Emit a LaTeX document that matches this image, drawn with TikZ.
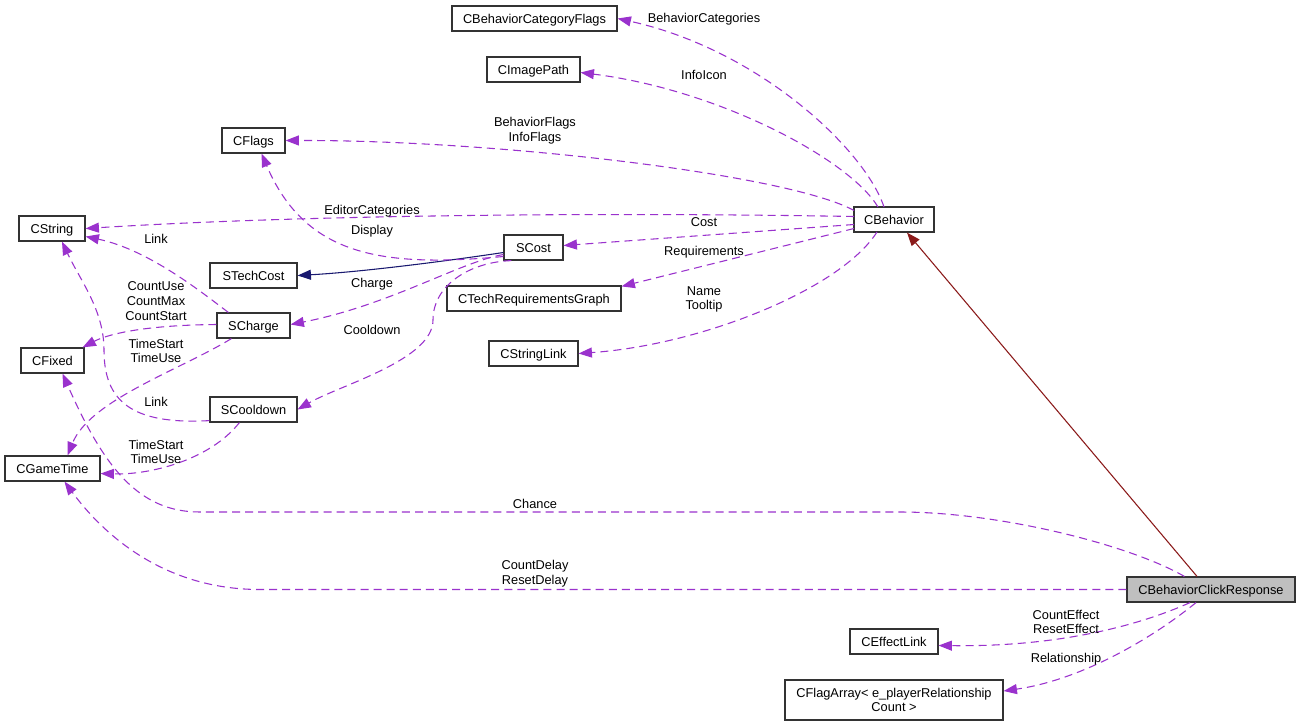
\documentclass[tikz,border=0pt]{standalone}
\usepackage{fontspec}
\setmainfont{Liberation Sans}
\usetikzlibrary{arrows.meta,calc}
\definecolor{usecol}{HTML}{9A32CD}
\definecolor{navycol}{HTML}{191970}
\definecolor{inhcol}{HTML}{8B1A1A}
\begin{document}
\begin{tikzpicture}[x=0.75pt,y=-0.75pt,
  box/.style={draw=black!80, line width=0.9pt, fill=white, inner sep=0pt, font=\fontsize{9.6}{11}\selectfont, align=center},
  one/.style={text height=6.9pt, text depth=0pt},
  sz/.style 2 args={minimum width=#1*0.75pt, minimum height=#2*0.75pt},
  lbl/.style={inner sep=0pt, font=\fontsize{9.6}{11}\selectfont, align=center},
  usage/.style={draw=usecol, line width=0.8pt, dash pattern=on 6pt off 3.8pt, -{Triangle[length=10pt,width=7.5pt]}},
  navyedge/.style={draw=navycol, line width=0.8pt, -{Triangle[length=10pt,width=7.5pt]}},
  inhedge/.style={draw=inhcol, line width=0.8pt, -{Triangle[length=10pt,width=7.5pt]}}
]
\useasboundingbox (0,0) rectangle (1300,726);
\fill[white] (0,0) rectangle (1300,726);

% nodes
\node[box,one,sz={165}{25}] (cbcf) at (534.5,18.5) {CBehaviorCategoryFlags};
\node[box,one,sz={93}{25}] (cimg) at (533.5,69.5) {CImagePath};
\node[box,one,sz={63}{25}] (cflags) at (253.5,140.5) {CFlags};
\node[box,one,sz={66}{25}] (cstr) at (52,228.5) {CString};
\node[box,one,sz={87}{25}] (stech) at (253.5,275.5) {STechCost};
\node[box,one,sz={59}{25}] (scost) at (533.5,247.5) {SCost};
\node[box,one,sz={80}{25}] (cbeh) at (894,219.5) {CBehavior};
\node[box,one,sz={174}{25}] (ctrg) at (534,298.5) {CTechRequirementsGraph};
\node[box,one,sz={89}{25}] (csl) at (533.5,353.5) {CStringLink};
\node[box,one,sz={73}{25}] (schg) at (253.5,325.5) {SCharge};
\node[box,one,sz={63}{25}] (cfix) at (52.5,360.5) {CFixed};
\node[box,one,sz={87}{25}] (scd) at (253.5,409.5) {SCooldown};
\node[box,one,sz={95}{25}] (cgt) at (52.5,468.5) {CGameTime};
\node[box,one,sz={168}{25},fill=gray!50] (cbcr) at (1211,589.5) {CBehaviorClickResponse};
\node[box,one,sz={88}{25}] (cel) at (894,641.5) {CEffectLink};
\node[box,sz={218}{40}] (cfa) at (894,700) {CFlagArray< e\_playerRelationship\\Count >};

% edges from CBehavior
\draw[usage] ($(cbeh)+(-10,-12.5)$) .. controls (865,150) and (760,50) .. (cbcf.east);
\draw[usage] ($(cbeh)+(-16,-12.5)$) .. controls (850,160) and (720,90) .. ($(cimg.east)+(0,3)$);
\draw[usage] ($(cbeh)+(-40,-9)$) .. controls (790,175) and (500,140) .. (cflags.east);
\draw[usage] ($(cbeh)+(-40,-3)$) .. controls (600,212) and (300,215) .. (cstr.east);
\draw[usage] ($(cbeh)+(-40,5)$) -- ($(scost.east)+(0,-2)$);
\draw[usage] ($(cbeh)+(-40,9)$) -- ($(ctrg.north east)+(0,1)$);
\draw[usage] ($(cbeh)+(-17,12.5)$) .. controls (840,290) and (700,345) .. (csl.east);

% edges from SCost
\draw[navyedge] ($(scost.west)+(0,5)$) .. controls (440,262) and (360,272) .. (stech.east);
\draw[usage] ($(scost.west)+(0,9)$) .. controls (380,268) and (305,255) .. ($(cflags.south)+(8,0)$);
\draw[usage] ($(scost.west)+(0,7)$) .. controls (460,262) and (390,305) .. ($(schg.east)+(0,-1)$);
\draw[usage] ($(scost.south west)+(8,0)$) .. controls (470,262) and (433,285) .. (433,320) .. controls (433,360) and (340,385) .. (scd.east);

% edges from SCharge
\draw[usage] ($(schg.north west)+(12,0)$) .. controls (205,295) and (150,250) .. ($(cstr.east)+(0,8)$);
\draw[usage] ($(schg.west)+(0,-1)$) .. controls (150,325) and (110,333) .. ($(cfix.north east)+(-2,0)$);
\draw[usage] ($(schg.south west)+(15,0)$) .. controls (180,370) and (90,400) .. ($(cgt.north)+(15,0)$);

% edges from SCooldown
\draw[usage] ($(scd.south west)+(0,-2)$) .. controls (130,425) and (104,400) .. (104,350) .. controls (104,310) and (80,280) .. ($(cstr.south)+(10,0)$);
\draw[usage] ($(scd.south west)+(30,0)$) .. controls (210,460) and (150,475) .. ($(cgt.east)+(0,5)$);

% edges from CBehaviorClickResponse
\draw[inhedge] ($(cbcr.north)+(-14,0)$) -- ($(cbeh.south)+(13,0)$);
\draw[usage] ($(cbcr.north west)+(58,0)$) .. controls (1130,545) and (1000,512) .. (900,512) -- (200,512) .. controls (140,512) and (105,470) .. ($(cfix.south)+(10,0)$);
\draw[usage] (cbcr.west) -- (260,589.5) .. controls (160,589.5) and (100,530) .. ($(cgt.south)+(12,0)$);
\draw[usage] ($(cbcr.south)+(-21,0)$) .. controls (1140,625) and (1060,647) .. ($(cel.east)+(0,4)$);
\draw[usage] ($(cbcr.south)+(-15,0)$) .. controls (1150,640) and (1080,680) .. ($(cfa.east)+(0,-9)$);

% labels
\node[lbl,one] (l1) at (704,18) {BehaviorCategories};
\node[lbl,one] (l2) at (704,75) {InfoIcon};
\node[lbl] (l3) at (535,130.5) {BehaviorFlags\\InfoFlags};
\node[lbl,one] (l4) at (372,210) {EditorCategories};
\node[lbl,one] (l5) at (372,230) {Display};
\node[lbl,one] (l6) at (704,222) {Cost};
\node[lbl,one] (l7) at (704,251) {Requirements};
\node[lbl] (l8) at (704,299.5) {Name\\Tooltip};
\node[lbl,one] (l9) at (372,283) {Charge};
\node[lbl,one] (l10) at (372,330) {Cooldown};
\node[lbl,one] (l11) at (156,239) {Link};
\node[lbl] (l12) at (156,301) {CountUse\\CountMax\\CountStart};
\node[lbl] (l13) at (156,351) {TimeStart\\TimeUse};
\node[lbl,one] (l14) at (156,402) {Link};
\node[lbl] (l15) at (156,452) {TimeStart\\TimeUse};
\node[lbl,one] (l16) at (535,504) {Chance};
\node[lbl] (l17) at (535,574) {CountDelay\\ResetDelay};
\node[lbl] (l18) at (1066,622) {CountEffect\\ResetEffect};
\node[lbl,one] (l19) at (1066,658) {Relationship};
\end{tikzpicture}
\end{document}
